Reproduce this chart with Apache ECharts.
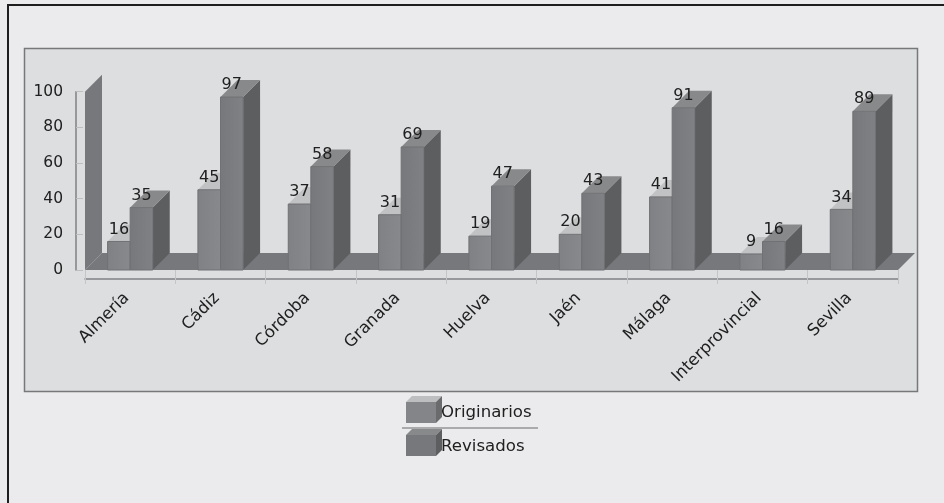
<!DOCTYPE html>
<html><head><meta charset="utf-8">
<style>html,body{margin:0;padding:0;background:#ebebed}#c{width:944px;height:503px}</style>
<script src="https://cdn.jsdelivr.net/npm/echarts@6/dist/echarts.min.js"></script>
</head><body><div id="c"></div>
<script>
const categories = ['Almería','Cádiz','Córdoba','Granada','Huelva','Jaén','Málaga','Interprovincial','Sevilla'];
const originarios = [16,45,37,31,19,20,41,9,34];
const revisados = [35,97,58,69,47,43,91,16,89];
const seriesNames = ['Originarios','Revisados'];
const yTicks = [0,100,20];

const DEPTH = 17;
const FONT = '"DejaVu Sans", sans-serif';
const TEXT = '#202020';
const EDGE = '#707174';

function poly(points, fill, stroke) {
  return {type:'polygon', shape:{points}, style:{fill, stroke: stroke || fill, lineWidth: stroke ? 1 : 0}};
}
function bar3d(which, colors) {
  return function (params, api) {
    const cat = api.value(0), val = api.value(1);
    const base = api.coord([cat, 0]);
    const top = api.coord([cat, val]);
    const w = api.size([1, 0])[0] * 0.25;
    const x0 = base[0] - (which === 0 ? w : 0), x1 = x0 + w;
    const yb = base[1], yt = top[1];
    return {type:'group', children:[
      poly([[x1,yb],[x1+DEPTH,yb-DEPTH],[x1+DEPTH,yt-DEPTH],[x1,yt]], colors.side),
      poly([[x0,yt],[x0+DEPTH,yt-DEPTH],[x1+DEPTH,yt-DEPTH],[x1,yt]], colors.top),
      {type:'rect', shape:{x:x0,y:yt,width:w,height:yb-yt},
        style:{fill:{type:'linear',x:0,y:0,x2:1,y2:0,colorStops:[{offset:0,color:colors.front0},{offset:1,color:colors.front1}]},stroke:EDGE,lineWidth:1}},
      {type:'text', z2:50, style:{x:(x0+x1)/2, y:yt-12, text:String(val), fill:TEXT, font:'16px '+FONT, align:'center', verticalAlign:'middle'}}
    ]};
  };
}
function walls(params, api) {
  const c = params.coordSys;
  const xl = c.x, xr = c.x + c.width, yb = c.y + c.height, yt = c.y;
  const f = '#77787b';
  return {type:'group', children:[
    poly([[xl,yb],[xl+DEPTH,yb-DEPTH],[xr+DEPTH,yb-DEPTH],[xr,yb]], f),
    poly([[xl,yb],[xl,yt],[xl+DEPTH,yt-DEPTH],[xl+DEPTH,yb-DEPTH]], f)
  ]};
}
function cube(x, y, front, top, side) {
  const w = 30, h = 21, d = 6;
  return [
    {type:'polygon', z:10, shape:{points:[[x,y],[x+d,y-d],[x+w+d,y-d],[x+w,y]]}, style:{fill:top}},
    {type:'polygon', z:10, shape:{points:[[x+w,y],[x+w+d,y-d],[x+w+d,y+h-d],[x+w,y+h]]}, style:{fill:side}},
    {type:'rect', z:10, shape:{x,y,width:w,height:h}, style:{fill:front}}
  ];
}
const chart = echarts.init(document.getElementById('c'), null, {renderer:'canvas'});
chart.setOption({
  animation:false,
  backgroundColor:'#ebebed',
  graphic:{elements:[
    {type:'rect', z:-10, shape:{x:24.5,y:48.5,width:893,height:343}, style:{fill:'#dddee0',stroke:'#77787a',lineWidth:1.5}},
    {type:'rect', z:-9, shape:{x:7,y:4,width:937,height:2}, style:{fill:'#1e1e1e'}},
    {type:'rect', z:-9, shape:{x:7,y:4,width:2,height:499}, style:{fill:'#1e1e1e'}},
    {type:'rect', z:10, shape:{x:402,y:427.5,width:136,height:1}, style:{fill:'#6a6b6d'}},
    ...cube(406,402,'#848588','#bdbec0','#6a6b6d'),
    ...cube(406,435,'#77787b','#88898b','#5d5e60'),
    {type:'text', z:10, style:{x:441,y:412.5,text:seriesNames[0],fill:TEXT,font:'16.6px '+FONT,verticalAlign:'middle'}},
    {type:'text', z:10, style:{x:441,y:446.5,text:seriesNames[1],fill:TEXT,font:'16.6px '+FONT,verticalAlign:'middle'}}
  ]},
  grid:{left:85,right:46,top:91.7,bottom:233,containLabel:false},
  xAxis:[
    {type:'category',data:categories,position:'bottom',offset:1,
      axisLine:{show:false},axisTick:{show:true,interval:0,length:14,lineStyle:{color:'#c4c5c7',width:1},alignWithLabel:false},
      axisLabel:{show:false,interval:0},splitLine:{show:false}},
    {type:'category',data:categories,position:'bottom',offset:9,
      axisLine:{show:true,lineStyle:{color:'#808184',width:1.5}},axisTick:{show:false},
      axisLabel:{show:true,rotate:45,interval:0,margin:13,padding:[0,5,0,0],color:TEXT,fontFamily:FONT,fontSize:16.5},splitLine:{show:false}}
  ],
  yAxis:{type:'value',min:yTicks[0],max:yTicks[1],interval:yTicks[2],offset:9,
    axisLine:{show:true,lineStyle:{color:'#808184',width:1.5}},
    axisTick:{show:true,inside:true,length:7,lineStyle:{color:'#bdbec0',width:1}},
    axisLabel:{margin:13,color:TEXT,fontFamily:FONT,fontSize:15.5},splitLine:{show:false}},
  series:[
    {type:'custom',name:'walls',z:2,renderItem:walls,data:[[0,0]],silent:true,clip:false},
    {type:'custom',name:seriesNames[0],z:3,clip:false,renderItem:bar3d(0,{front0:'#808184',front1:'#88898c',top:'#c1c2c4',side:'#6a6b6d'}),
      data:originarios.map((v,i)=>[i,v]),encode:{x:0,y:1}},
    {type:'custom',name:seriesNames[1],z:4,clip:false,renderItem:bar3d(1,{front0:'#77787b',front1:'#808184',top:'#88898b',side:'#5d5e60'}),
      data:revisados.map((v,i)=>[i,v]),encode:{x:0,y:1}}
  ]
});
</script></body></html>
